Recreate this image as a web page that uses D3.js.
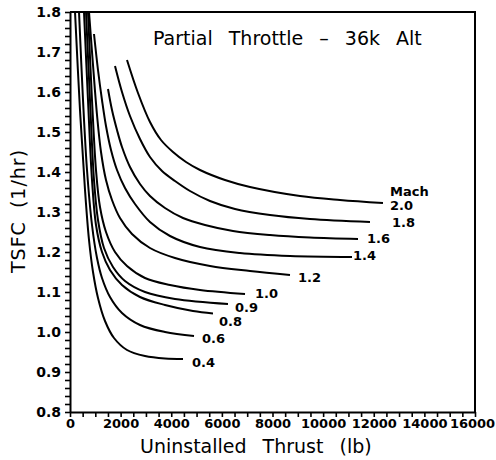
<!DOCTYPE html>
<html><head><meta charset="utf-8">
<script src="https://cdn.jsdelivr.net/npm/d3@7"></script>
<style>body{margin:0;background:#fff}</style>
</head><body><svg id="c" width="496" height="460"></svg>
<script>
// ---- data (Uninstalled thrust [lb], TSFC [1/hr]) ----
const machLabels = ["0.4","0.6","0.8","0.9","1.0","1.2","1.4","1.6","1.8","2.0"];
const curve04 = [[198,1.8],[395,1.555],[593,1.355],[751,1.23],[909,1.15],[1106,1.085],[1383,1.0275],[1738,0.985],[2252,0.955],[2963,0.94],[3753,0.93375],[4464,0.9325]];
const curve06 = [[356,1.8],[514,1.58],[672,1.405],[869,1.2675],[1067,1.185],[1264,1.135],[1580,1.0875],[2054,1.0475],[2765,1.0175],[3753,1.0],[4899,0.99]];
const curve08 = [[553,1.8],[711,1.58],[869,1.38],[1027,1.2675],[1264,1.20],[1580,1.155],[2054,1.1175],[2765,1.0875],[3753,1.0675],[4859,1.0525],[5649,1.04625]];
const curve09 = [[632,1.8],[790,1.58],[948,1.38],[1106,1.28],[1343,1.21],[1699,1.1625],[2173,1.1275],[2963,1.10],[4148,1.0825],[6242,1.07]];
const curve10 = [[711,1.8],[869,1.58],[1027,1.405],[1185,1.3125],[1422,1.25],[1778,1.20],[2252,1.165],[2963,1.135],[3951,1.1175],[5136,1.105],[6914,1.095]];
const curve12 = [[751,1.8],[909,1.6675],[1067,1.5425],[1225,1.45],[1422,1.38],[1659,1.33],[1975,1.285],[2449,1.245],[3160,1.21],[4148,1.185],[5531,1.165],[7111,1.1525],[8691,1.1425]];
const curve14 = [[948,1.745],[1106,1.655],[1264,1.58],[1422,1.515],[1620,1.455],[1857,1.405],[2173,1.36],[2568,1.32],[3160,1.275],[3951,1.24],[5136,1.2125],[6716,1.1975],[8691,1.19],[11141,1.1875]];
const curve16 = [[1501,1.6075],[1659,1.555],[1857,1.505],[2054,1.4625],[2370,1.4125],[2765,1.37],[3160,1.34],[3753,1.31],[4464,1.285],[5333,1.2675],[6439,1.2525],[7901,1.2425],[9481,1.23625],[11378,1.2325]];
const curve18 = [[1778,1.665],[2054,1.60],[2370,1.54],[2765,1.4825],[3160,1.4375],[3635,1.4025],[4148,1.3775],[4741,1.3525],[5531,1.3275],[6518,1.3075],[7901,1.2925],[9481,1.2825],[11852,1.275]];
const curve20 = [[2252,1.68],[2686,1.5975],[3160,1.525],[3595,1.48],[4069,1.45],[4583,1.425],[5136,1.405],[6123,1.38],[7111,1.3625],[9086,1.34],[10667,1.33],[12365,1.3225]];
const curves = [curve04,curve06,curve08,curve09,curve10,curve12,curve14,curve16,curve18,curve20];
const xTickLabels = [0,2000,4000,6000,8000,10000,12000,14000,16000];
const yTickLabels = [0.8,0.9,1.0,1.1,1.2,1.3,1.4,1.5,1.6,1.7,1.8];

// ---- layout ----
const labelDx = [9,8,6,7,10,8,1,9,22,7];
const labelDy = [3,2,8,3,-1,2,-2,-1,0,2];
const L = 70, R = 475, T = 12, B = 412;
const svg = d3.select("#c");
const x = d3.scaleLinear().domain([0,16000]).range([L,R]);
const y = d3.scaleLinear().domain([0.8,1.8]).range([B,T]);
const font = "'DejaVu Sans', Verdana, sans-serif";

svg.append("clipPath").attr("id","clip").append("rect")
  .attr("x",L).attr("y",T).attr("width",R-L).attr("height",B-T);

// x axis
const xAx = d3.axisBottom(x).tickValues(d3.range(0,16001,500)).tickSize(5).tickSizeOuter(0)
  .tickFormat(d => xTickLabels.includes(d) ? d : "");
const gx = svg.append("g").attr("transform",`translate(0,${B})`).call(xAx);
gx.select(".domain").attr("stroke-width",2);
gx.selectAll(".tick line").attr("stroke-width",1.6);
gx.selectAll("text").attr("font-family",font).attr("font-weight","bold").attr("font-size",13).attr("fill","#000").attr("dy","0.6em")
  .filter(d => d === 16000).attr("dx",-3);

// y axis
const yAx = d3.axisLeft(y).tickValues(d3.range(0,51).map(i => 0.8 + i*0.02)).tickSize(5).tickSizeOuter(0)
  .tickFormat(d => yTickLabels.some(v => Math.abs(v-d) < 1e-6) ? d3.format(".1f")(d) : "");
const gy = svg.append("g").attr("transform",`translate(${L},0)`).call(yAx);
gy.select(".domain").attr("stroke-width",2);
gy.selectAll(".tick line").attr("stroke-width",1.6);
gy.selectAll("text").attr("font-family",font).attr("font-weight","bold").attr("font-size",14).attr("fill","#000").attr("x",-9);

// frame top and right
svg.append("path").attr("d",`M${L},${T}H${R}V${B}`).attr("fill","none").attr("stroke","#000").attr("stroke-width",2);

// curves
const line = d3.line().x(d => x(d[0])).y(d => y(d[1])).curve(d3.curveCatmullRom.alpha(0.5));
svg.append("g").attr("clip-path","url(#clip)").selectAll("path").data(curves).join("path")
  .attr("d",line).attr("fill","none").attr("stroke","#000").attr("stroke-width",2);

// curve labels
curves.forEach((c,i) => {
  const p = c[c.length-1];
  svg.append("text").attr("x",x(p[0])+labelDx[i]).attr("y",y(p[1])+labelDy[i]).attr("dy","0.36em")
    .attr("font-family",font).attr("font-weight","bold").attr("font-size",13).text(machLabels[i]);
});
const last = curve20[curve20.length-1];
svg.append("text").attr("x",x(last[0])+labelDx[9]).attr("y",y(last[1])-12).attr("dy","0.36em")
  .attr("font-family",font).attr("font-weight","bold").attr("font-size",13).text("Mach");

// titles
svg.append("text").attr("x",153).attr("y",45).attr("font-family",font).attr("font-size",19)
  .attr("word-spacing",10).text("Partial Throttle \u2013 36k Alt");
svg.append("text").attr("x",140).attr("y",453)
  .attr("font-family",font).attr("font-size",19).attr("word-spacing",10).text("Uninstalled Thrust (lb)");
svg.append("text").attr("transform","translate(25,273) rotate(-90)")
  .attr("font-family",font).attr("font-size",19).attr("letter-spacing",1).attr("word-spacing",6).text("TSFC (1/hr)");
</script></body></html>
